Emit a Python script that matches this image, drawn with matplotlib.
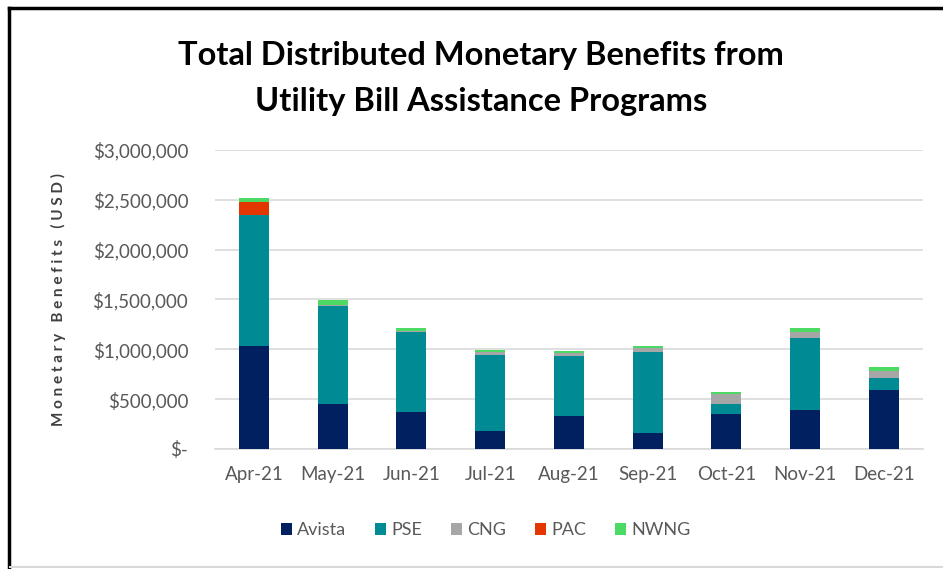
import matplotlib.pyplot as plt
from matplotlib.lines import Line2D
from matplotlib.ticker import FuncFormatter
import numpy as np

months = ["Apr-21", "May-21", "Jun-21", "Jul-21", "Aug-21", "Sep-21", "Oct-21", "Nov-21", "Dec-21"]
avista = [1036000, 450000, 375000, 181000, 332000, 158000, 355000, 392000, 590000]
pse = [1308000, 980000, 795000, 758000, 604000, 818000, 95000, 722000, 127000]
cng = [0, 10000, 17000, 30000, 23000, 33000, 100000, 56000, 65000]
pac = [134000, 0, 0, 0, 0, 0, 0, 0, 0]
nwng = [44000, 50000, 23000, 24000, 20000, 24000, 20000, 40000, 40000]

series = ["Avista", "PSE", "CNG", "PAC", "NWNG"]
colors = ["#002060", "#008A94", "#A6A6A6", "#E43700", "#4CD964"]

plt.rcParams['font.family'] = ['Lato', 'DejaVu Sans']

fig = plt.figure(figsize=(9.43, 5.69), dpi=100)
ax = fig.add_axes([0.2276, 0.2109, 0.7514, 0.5255])

x = np.arange(len(months))
bottom = np.zeros(len(months))
for name, vals, c in zip(series, [avista, pse, cng, pac, nwng], colors):
    ax.bar(x, vals, 0.38, bottom=bottom, color=c, label=name, zorder=3)
    bottom += np.array(vals)

ax.set_xlim(-0.5, len(months) - 0.5)
ax.set_ylim(0, 3000000)
ax.set_yticks(np.arange(0, 3000001, 500000))
ax.yaxis.set_major_formatter(FuncFormatter(lambda v, p: "$-" if v == 0 else "${:,.0f}".format(v)))
ax.set_xticks(x)
ax.set_xticklabels(months)
ax.grid(axis='y', color='#D9D9D9', linewidth=1.2, zorder=0)
for s in ['top', 'right', 'left']:
    ax.spines[s].set_visible(False)
ax.spines['bottom'].set_color('#D9D9D9')
ax.spines['bottom'].set_linewidth(1.2)
ax.tick_params(length=0, colors='#595959', labelsize=13.5)
ax.tick_params(axis='y', pad=19)
ax.tick_params(axis='x', pad=12)

ax.set_ylabel("M o n e t a r y   B e n e f i t s   ( U S D )", fontsize=11, fontweight='bold',
              color='#404040', labelpad=19)

fig.text(0.51, 0.902, "Total Distributed Monetary Benefits from", ha='center', va='center',
         fontsize=23.5, fontweight='bold', color='black')
fig.text(0.51, 0.822, "Utility Bill Assistance Programs", ha='center', va='center',
         fontsize=23.5, fontweight='bold', color='black')

fig.legend(loc='center', bbox_to_anchor=(0.515, 0.068), ncol=5, frameon=False, fontsize=13,
           handlelength=0.6, handleheight=0.6, handletextpad=0.3, columnspacing=1.6,
           labelcolor='#595959')

# outer frame
fig.add_artist(Line2D([0.0095, 0.0095], [0.003, 0.986], transform=fig.transFigure, color='black', linewidth=2.5))
fig.add_artist(Line2D([0.0095, 1.0], [0.986, 0.986], transform=fig.transFigure, color='black', linewidth=2.5))
fig.add_artist(Line2D([0.011, 1.0], [0.004, 0.004], transform=fig.transFigure, color='#D9D9D9', linewidth=1.5))

fig.savefig("out.png", dpi=100, facecolor='white')
